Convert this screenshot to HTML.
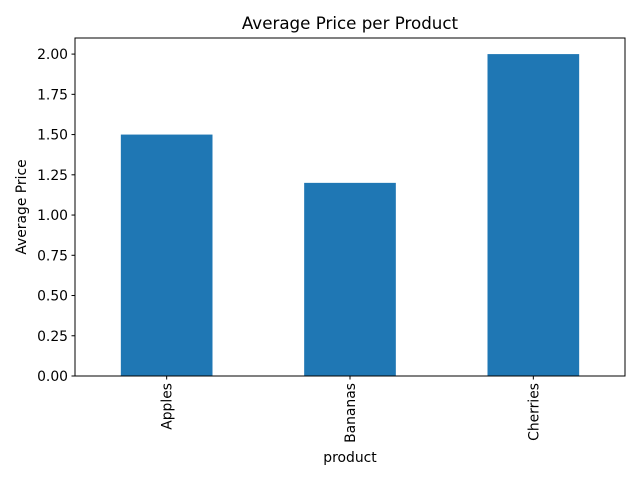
<!DOCTYPE html>
<html><head><meta charset="utf-8"><style>
body{margin:0;background:#fff;font-family:"Liberation Sans","DejaVu Sans",sans-serif;}
svg text{font-family:"DejaVu Sans","Liberation Sans",sans-serif;}
</style></head><body>
<svg id="chart" width="640" height="480" xmlns="http://www.w3.org/2000/svg">
<rect width="640" height="480" fill="#fff"/>
<g id="plot"></g>
</svg>
<script>
const categories = ["Apples","Bananas","Cherries"];
const values = [1.5, 1.2, 2.0];
const yTicks = [0,0.25,0.5,0.75,1.0,1.25,1.5,1.75,2.0];
const yTickLabels = ["0.00","0.25","0.50","0.75","1.00","1.25","1.50","1.75","2.00"];

const L=75,R=625,T=38,B=376;
const yMax = Math.max(...values)*1.05;
const y = v => B - v/yMax*(B-T);
const x = i => L + (i+0.5)/categories.length*(R-L);
const bw = 0.5/categories.length*(R-L);
const ns="http://www.w3.org/2000/svg";
const g=document.getElementById('plot');
function mk(tag,attrs,text){const e=document.createElementNS(ns,tag);for(const k in attrs)e.setAttribute(k,attrs[k]);if(text!==undefined)e.textContent=text;g.appendChild(e);return e;}

values.forEach((v,i)=>{
  const r=mk('rect',{x:x(i)-bw/2,y:y(v),width:bw,height:B-y(v),fill:'#1f77b4'});
  
  
});
const frame=mk('rect',{x:L,y:T,width:R-L,height:B-T,fill:'none',stroke:'#000','stroke-width':1});



yTicks.forEach((t,i)=>{
  const yy=y(t);
  const tk=mk('line',{x1:L-3.5,x2:L,y1:yy,y2:yy,stroke:'#000'});
  
  
  const lb=mk('text',{x:L-7,y:yy+5,'text-anchor':'end','font-size':13.9},yTickLabels[i]);
  
  
});
categories.forEach((c,i)=>{
  const xx=x(i);
  const tk=mk('line',{x1:xx,x2:xx,y1:B,y2:B+3.5,stroke:'#000'});
  
  
  const lb=mk('text',{x:xx+5,y:B+7,'text-anchor':'end','font-size':13.9,transform:`rotate(-90 ${xx+5} ${B+7})`},c);
  
  
});
const xt=mk('text',{x:(L+R)/2,y:462,'text-anchor':'middle','font-size':13.9},'product');


const yt=mk('text',{x:26,y:(T+B)/2,'text-anchor':'middle','font-size':13.9,transform:`rotate(-90 26 ${(T+B)/2})`},'Average Price');


const ti=mk('text',{x:(L+R)/2,y:29,'text-anchor':'middle','font-size':16.7},'Average Price per Product');


</script>
</body></html>
